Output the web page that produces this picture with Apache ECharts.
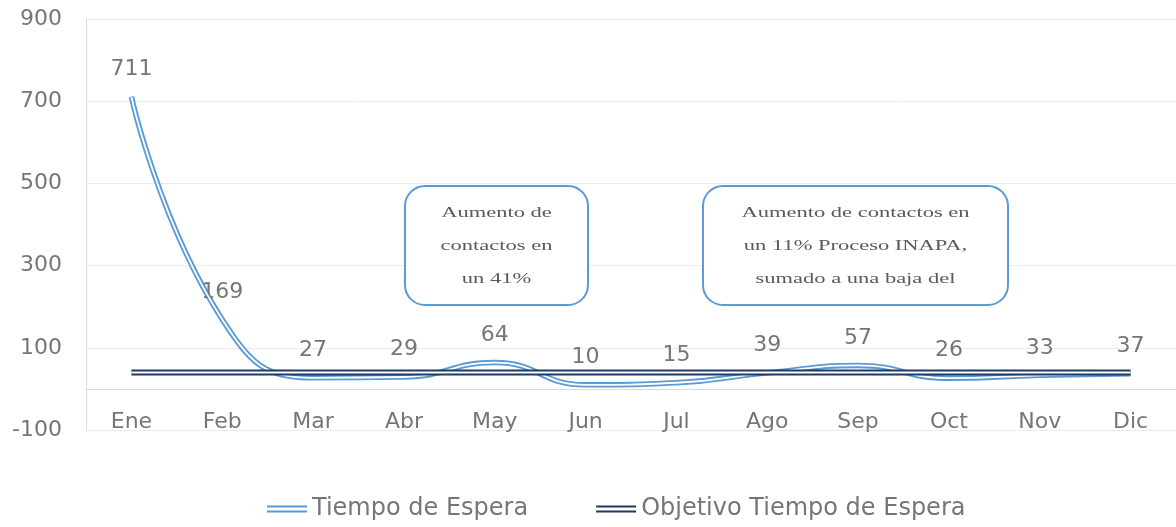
<!DOCTYPE html>
<html>
<head>
<meta charset="utf-8">
<script src="https://cdn.jsdelivr.net/npm/echarts@6/dist/echarts.min.js"></script>
<style>
	html, body { margin: 0; padding: 0; background: #fff; }
	#chart { width: 1176px; height: 527px; }
</style>
</head>
<body>
<div id="chart"></div>
<script>
// datos del grafico
let meses = ['Ene', 'Feb', 'Mar', 'Abr', 'May', 'Jun', 'Jul', 'Ago', 'Sep', 'Oct', 'Nov', 'Dic'];
let tiempoEspera = [711, 169, 27, 29, 64, 10, 15, 39, 57, 26, 33, 37];
let objetivo = [40, 40, 40, 40, 40, 40, 40, 40, 40, 40, 40, 40];
let yTicks = { min: -100, max: 900, interval: 200 };
let nota1 = 'Aumento de\ncontactos en\nun 41%';
let nota2 = 'Aumento de contactos en\nun 11% Proceso INAPA,\nsumado a una baja del';

let fuente = 'DejaVu Sans';
let gris = '#767676';
let azul = '#5B9BD5';
let marino = '#1F3864';
let dobleLinea = 'path://M0,0L40,0L40,2L0,2Z M0,5L40,5L40,7L0,7Z';

let myChart = echarts.init(document.getElementById('chart'));

// caja de nota con texto centrado (texto ensanchado como en el original)
let cajaNota = function(x, y, w, h, texto) {
	return {
		type: 'group',
		children: [{
			type: 'rect',
			shape: { x: x, y: y, width: w, height: h, r: 20 },
			style: { fill: '#fff', stroke: azul, lineWidth: 2 },
			z: 100
		}, {
			type: 'text',
			x: x + w / 2,
			y: y + h / 2 + 1,
			scaleX: 1.5,
			style: {
				text: texto,
				fill: '#595959',
				font: '15px "Liberation Serif"',
				align: 'center',
				verticalAlign: 'middle',
				lineHeight: 33
			},
			z: 101
		}]
	};
};

let option = {
	animation: false,
	grid: { left: 86, right: 0, top: 19, bottom: 97 },
	legend: {
		bottom: 1,
		left: 262,
		itemWidth: 40,
		itemHeight: 7,
		itemGap: 68,
		data: [
			{ name: 'Tiempo de Espera', icon: dobleLinea, itemStyle: { color: azul, opacity: 1 } },
			{ name: 'Objetivo Tiempo de Espera', icon: dobleLinea, itemStyle: { color: marino, opacity: 1 } }
		],
		textStyle: { fontFamily: fuente, fontSize: 24, color: gris }
	},
	xAxis: {
		type: 'category',
		data: meses,
		offset: -41,
		axisLine: { onZero: false, lineStyle: { color: '#d9d9d9', width: 1 } },
		axisTick: { show: false },
		axisLabel: { fontFamily: fuente, fontSize: 22, color: gris, margin: 22 }
	},
	yAxis: {
		type: 'value',
		min: yTicks.min,
		max: yTicks.max,
		interval: yTicks.interval,
		axisLine: { show: true, lineStyle: { color: '#d9d9d9', width: 1 } },
		axisTick: { show: false },
		splitLine: { lineStyle: { color: '#ebebeb', width: 1 } },
		axisLabel: { fontFamily: fuente, fontSize: 22, color: gris, margin: 24 }
	},
	series: [{
		name: 'Tiempo de Espera',
		type: 'line',
		smooth: 0.5,
		data: tiempoEspera,
		symbol: 'circle',
		symbolSize: 1,
		showSymbol: true,
		itemStyle: { color: azul },
		lineStyle: { color: azul, width: 5.5 },
		label: {
			show: true,
			position: 'top',
			distance: 16,
			fontFamily: fuente,
			fontSize: 22,
			color: gris
		},
		z: 2
	}, {
		name: 'Tiempo de Espera',
		type: 'line',
		smooth: 0.5,
		data: tiempoEspera,
		silent: true,
		symbol: 'none',
		lineStyle: { color: '#fff', width: 1.8 },
		z: 3
	}, {
		name: 'Objetivo Tiempo de Espera',
		type: 'line',
		data: objetivo,
		symbol: 'none',
		itemStyle: { color: marino },
		lineStyle: { color: marino, width: 6 },
		z: 4
	}, {
		name: 'Objetivo Tiempo de Espera',
		type: 'line',
		data: objetivo,
		silent: true,
		symbol: 'none',
		lineStyle: { color: '#fff', width: 2 },
		z: 5
	}],
	graphic: [
		cajaNota(405, 186, 183, 119, nota1),
		cajaNota(703, 186, 305, 119, nota2)
	]
};

myChart.setOption(option);
</script>
</body>
</html>
